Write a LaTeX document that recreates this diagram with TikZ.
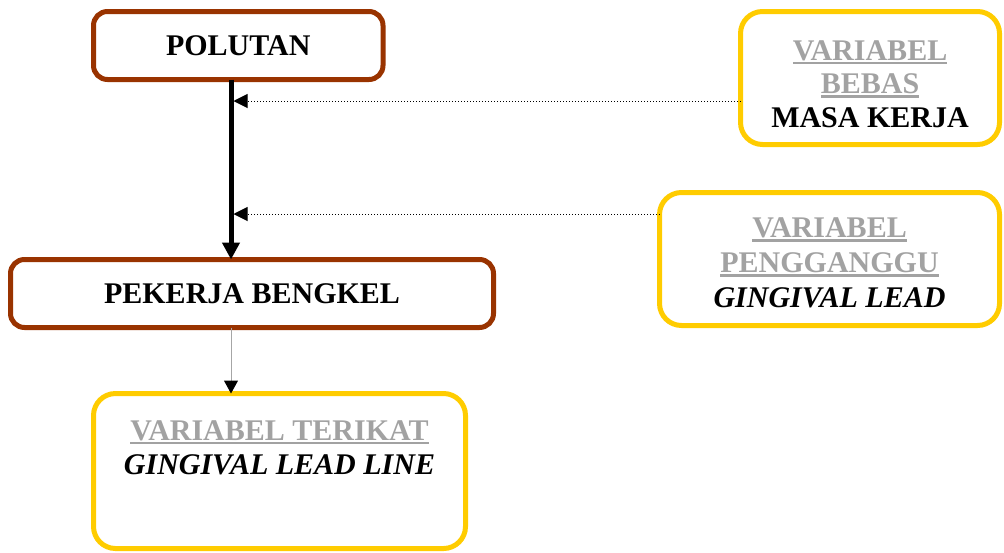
\documentclass[tikz,border=0pt]{standalone}
\usepackage{fontspec}
\setmainfont{Liberation Serif}
\usetikzlibrary{arrows.meta,calc}
\definecolor{brownbox}{HTML}{993300}
\definecolor{yellowbox}{HTML}{FFCC00}
\definecolor{greytext}{HTML}{A2A2A2}
\newcommand\myul[1]{\setbox0\hbox{#1}\leavevmode\rlap{\rule[-2pt]{\wd0}{1.3pt}}\box0}
\newcommand\gl[1]{\textcolor{greytext}{\myul{#1}}}
% shift a stack of centred lines down by #1, with line spacing #2
\newcommand\lowstack[3]{\raisebox{-#1}[\height][\depth]{\fontsize{15}{#2}\selectfont\begin{tabular}{@{}c@{}}#3\end{tabular}}}
\begin{document}
\begin{tikzpicture}[x=0.5pt,y=-0.5pt,
  font=\fontsize{15}{17}\selectfont\bfseries,
  brownnode/.style={draw=brownbox, line width=2.5pt, rounded corners=7pt, inner sep=0pt, outer sep=0pt, align=center},
  yellownode/.style={draw=yellowbox, line width=2.5pt, rounded corners=11pt, inner sep=0pt, outer sep=0pt, align=center},
  thickarrow/.style={line width=2.5pt, -{Triangle[width=8.5pt,length=8.5pt]}},
  dotarrow/.style={line width=0.5pt, dash pattern=on 0.5pt off 1pt, -{Triangle[width=7pt,length=7pt]}},
  greyarrow/.style={draw=gray!70, line width=0.5pt, -{Triangle[width=7pt,length=6.5pt,color=black]}}]
\useasboundingbox (0,0) rectangle (1004,552);
\node[brownnode, minimum width=144.75pt, minimum height=34pt] (polutan) at (238.25,45.5) {POLUTAN};
\node[brownnode, minimum width=241.5pt, minimum height=34pt] (pekerja) at (252,293.5) {PEKERJA BENGKEL};
\node[yellownode, minimum width=129.5pt, minimum height=66.5pt] (bebas) at (870,78) {\lowstack{4.5pt}{16.75pt}{\gl{VARIABEL}\\\gl{BEBAS}\\MASA KERJA}};
\node[yellownode, minimum width=170pt, minimum height=66.5pt] (pengganggu) at (829.5,259) {\lowstack{3.3pt}{17.5pt}{\gl{VARIABEL}\\\gl{PENGGANGGU}\\\textit{GINGIVAL LEAD}}};
\node[yellownode, minimum width=186pt, minimum height=77.5pt] (terikat) at (279.5,471) {};
\node[anchor=north, inner sep=0pt, align=center] (terikattext) at (279.5,420) {\gl{VARIABEL TERIKAT}\\\textit{GINGIVAL LEAD LINE}};
\coordinate (ax) at (231,0);
\coordinate (a1) at (233.5,101);
\coordinate (a2) at (233.5,214);
\draw[thickarrow] (polutan.south -| ax) -- (pekerja.north -| ax);
\draw[dotarrow] (bebas.west |- a1) -- (a1);
\draw[dotarrow] (pengganggu.west |- a2) -- (a2);
\draw[greyarrow] (pekerja.south -| ax) -- (terikat.north -| ax);
\end{tikzpicture}
\end{document}
